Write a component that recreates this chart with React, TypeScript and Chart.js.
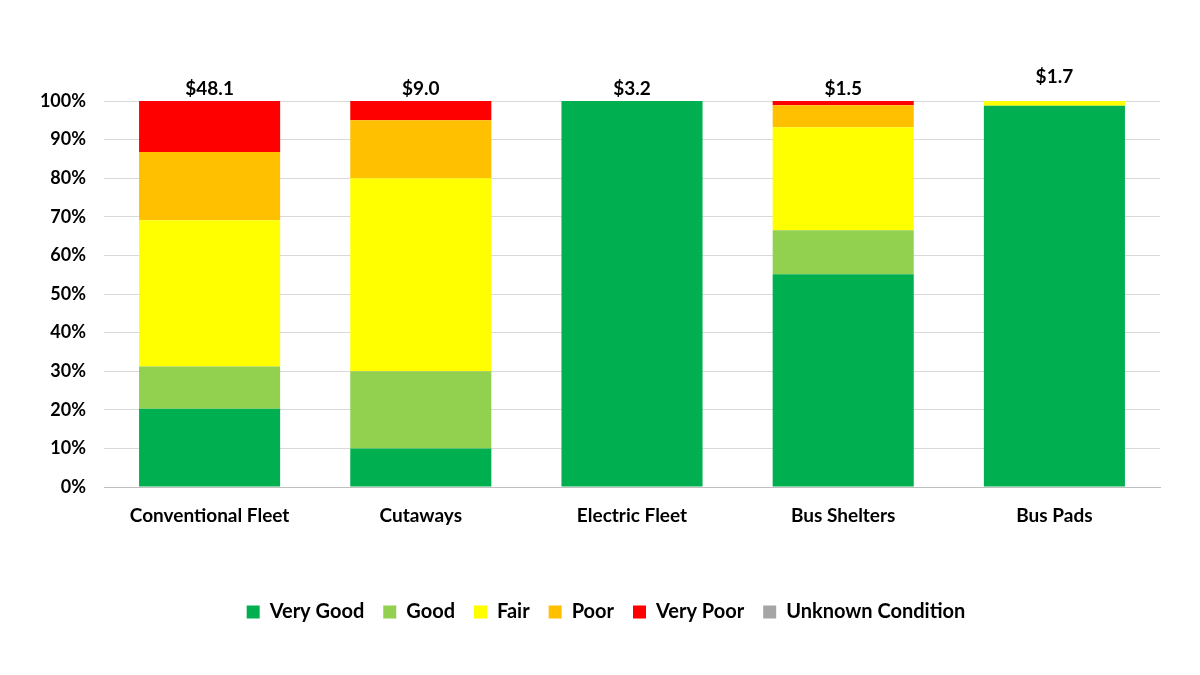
import React, { useEffect, useRef } from "react";
import { Chart, registerables } from "chart.js";

Chart.register(...registerables);

const categories = ["Conventional Fleet", "Cutaways", "Electric Fleet", "Bus Shelters", "Bus Pads"];
const totalLabels = ["$48.1", "$9.0", "$3.2", "$1.5", "$1.7"];
const totalLabelPos = [100, 100, 100, 100, 103.1];

const veryGood = [20.3, 10, 100, 55.1, 98.8];
const good = [10.9, 20, 0, 11.4, 0];
const fair = [37.9, 50, 0, 26.7, 1.2];
const poor = [17.7, 15, 0, 5.7, 0];
const veryPoor = [13.2, 5, 0, 1.1, 0];
const unknown = [0, 0, 0, 0, 0];

const seriesNames = ["Very Good", "Good", "Fair", "Poor", "Very Poor", "Unknown Condition"];
const seriesColors = ["#00B050", "#92D050", "#FFFF00", "#FFC000", "#FF0000", "#A5A5A5"];
const seriesData = [veryGood, good, fair, poor, veryPoor, unknown];

const yTicks = [0, 10, 20, 30, 40, 50, 60, 70, 80, 90, 100];

const FONT = "Lato, 'Open Sans', sans-serif";

const totalsPlugin = {
  id: "totals",
  afterLayout(chart: any) {
    if (chart.legend) {
      chart.legend.left += 52;
    }
  },
  afterDatasetsDraw(chart: any) {
    const ctx = chart.ctx;
    const meta = chart.getDatasetMeta(0);
    const yScale = chart.scales.y;
    ctx.save();
    ctx.font = `bold 19px ${FONT}`;
    ctx.fillStyle = "#000";
    ctx.textAlign = "center";
    ctx.textBaseline = "bottom";
    meta.data.forEach((bar: any, i: number) => {
      const y = yScale.getPixelForValue(totalLabelPos[i]);
      ctx.fillText(totalLabels[i], bar.x, y - 3);
    });
    ctx.restore();
  },
};

export default function App() {
  const ref = useRef<HTMLCanvasElement>(null);
  useEffect(() => {
    document.body.style.margin = "0";
    const chart = new Chart(ref.current!, {
      type: "bar",
      data: {
        labels: categories,
        datasets: seriesData.map((d, i) => ({
          label: seriesNames[i],
          data: d,
          backgroundColor: seriesColors[i],
          borderWidth: 0,
          categoryPercentage: 1,
          barPercentage: 0.668,
        })),
      },
      options: {
        animation: false,
        responsive: false,
        maintainAspectRatio: false,
        layout: { padding: { top: 101, right: 40, bottom: 43, left: 0 } },
        plugins: {
          tooltip: { enabled: false },
          legend: {
            position: "bottom",
            labels: {
              boxWidth: 13,
              boxHeight: 13,
              padding: 19,
              color: "#000",
              font: { family: FONT, size: 20, weight: "bold" },
            },
          },
        },
        scales: {
          x: {
            stacked: true,
            grid: { display: false },
            border: { color: "#bfbfbf", width: 1 },
            ticks: {
              color: "#000",
              padding: 9,
              font: { family: FONT, size: 19, weight: "bold" },
              maxRotation: 0,
            },
            afterFit: (s: any) => {
              s.height = 96;
            },
          },
          y: {
            stacked: true,
            min: 0,
            max: 100,
            afterBuildTicks: (s: any) => {
              s.ticks = yTicks.map((v) => ({ value: v }));
            },
            ticks: {
              color: "#000",
              padding: 18,
              font: { family: FONT, size: 18, weight: "bold" },
              callback: (v: any) => v + "%",
            },
            grid: { color: "#d9d9d9", lineWidth: 1, drawTicks: false },
            border: { display: false },
            afterFit: (s: any) => {
              s.width = 104;
            },
          },
        },
      },
      plugins: [totalsPlugin],
    });
    return () => chart.destroy();
  }, []);
  return (
    <div style={{ width: 1200, height: 675, background: "#fff" }}>
      <canvas ref={ref} width={1200} height={675} style={{ width: 1200, height: 675 }} />
    </div>
  );
}
